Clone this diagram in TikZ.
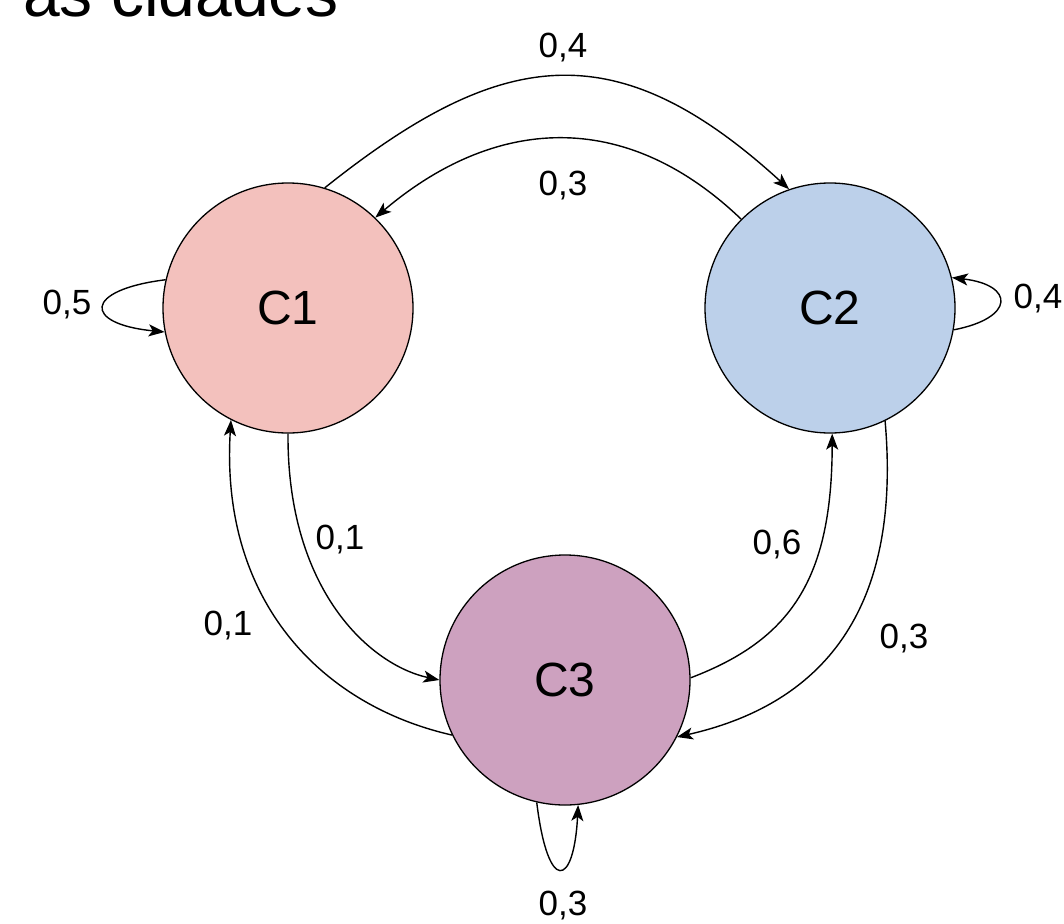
\documentclass[tikz,border=0pt]{standalone}
\usepackage{fontspec}
\setmainfont{Liberation Sans}
\usetikzlibrary{arrows.meta}
\definecolor{cone}{HTML}{F3C1BD}
\definecolor{ctwo}{HTML}{BCD0EA}
\definecolor{cthree}{HTML}{CDA1BF}
\tikzset{
  state/.style={circle, draw=black, line width=1.3pt, minimum size=250pt, inner sep=0pt, font=\fontsize{48}{50}\selectfont},
  edge/.style={draw=black, line width=1.4pt, -{Stealth[length=16pt,width=12pt,inset=4pt]}},
  prob/.style={font=\fontsize{35}{36}\selectfont, inner sep=0pt}
}
\begin{document}
\begin{tikzpicture}[x=1pt,y=-1pt]
\useasboundingbox (0,0) rectangle (1064,923);
\node[anchor=base west, inner sep=0pt, font=\fontsize{66}{70}\selectfont] (title) at (23,17) {as cidades};
\node[state, fill=cone] (C1) at (288,308) {C1};
\node[state, fill=ctwo] (C2) at (830,308) {C2};
\node[state, fill=cthree] (C3) at (565,680) {C3};
% C1 -> C2
\draw[edge] (C1.73) .. controls (500,48) and (615,30) .. (C2.109);
% C2 -> C1
\draw[edge] (C2.135) .. controls (624,107) and (494,117) .. (C1.46);
% self loops
\draw[edge] (C1.167) .. controls (83,290) and (83,324) .. (C1.191);
\draw[edge] (C2.350) .. controls (1015,318) and (1015,285) .. (C2.14);
\draw[edge] (C3.257) .. controls (548,895) and (574,887) .. (C3.276);
% C1 -> C3
\draw[edge] (C1.270) .. controls (287,590) and (370,665) .. (C3.180);
% C3 -> C1
\draw[edge] (C3.206) .. controls (320,705) and (220,600) .. (C1.243);
% C3 -> C2
\draw[edge] (C3.1) .. controls (790,640) and (832,580) .. (C2.271);
% C2 -> C3
\draw[edge] (C2.296) .. controls (900,590) and (840,700) .. (C3.333);
% labels
\node[prob] (l12) at (563,48) {0,4};
\node[prob] (l21) at (563,186) {0,3};
\node[prob] (l11) at (67,305) {0,5};
\node[prob] (l22) at (1038,299) {0,4};
\node[prob] (l33) at (563,906) {0,3};
\node[prob] (l13) at (340,540) {0,1};
\node[prob] (l31) at (228,626) {0,1};
\node[prob] (l32) at (777,545) {0,6};
\node[prob] (l23) at (904,639) {0,3};
\end{tikzpicture}
\end{document}
